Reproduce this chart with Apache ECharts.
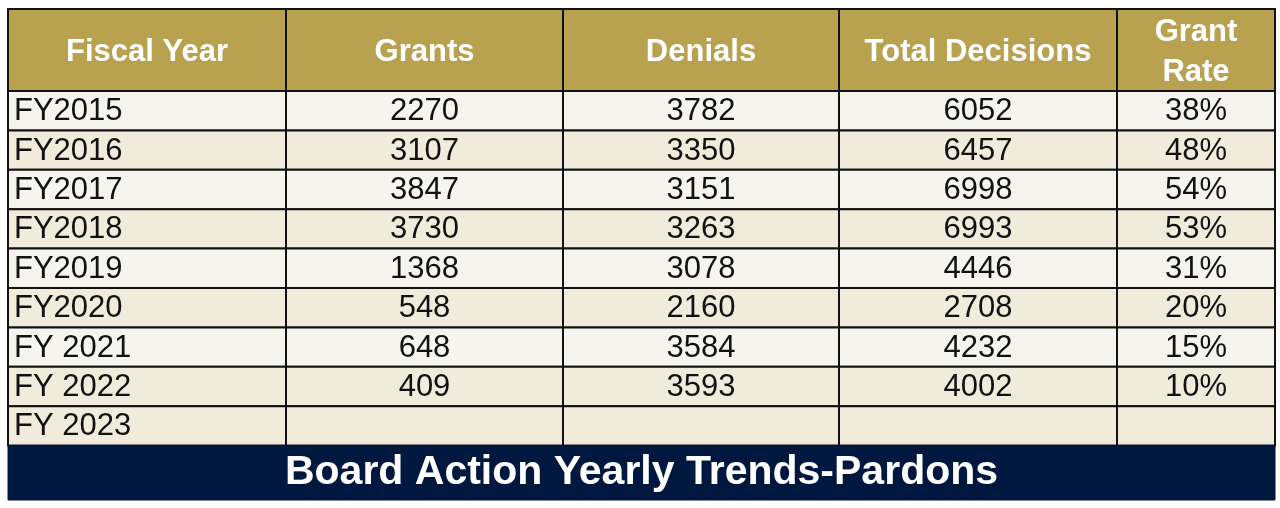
<!DOCTYPE html>
<html>
<head>
<meta charset="utf-8">
<script src="https://cdn.jsdelivr.net/npm/echarts@6/dist/echarts.min.js"></script>
<style>html,body{margin:0;padding:0;background:#fff}#main{width:1280px;height:508px}</style>
</head>
<body>
<div id="main"></div>
<script>
// ---- data ----
const headers = ['Fiscal Year', 'Grants', 'Denials', 'Total Decisions', 'Grant\nRate'];
const years = ['FY2015', 'FY2016', 'FY2017', 'FY2018', 'FY2019', 'FY2020', 'FY 2021', 'FY 2022', 'FY 2023'];
const grants = [2270, 3107, 3847, 3730, 1368, 548, 648, 409, null];
const denials = [3782, 3350, 3151, 3263, 3078, 2160, 3584, 3593, null];
const totals = [6052, 6457, 6998, 6993, 4446, 2708, 4232, 4002, null];
const grantRates = [38, 48, 54, 53, 31, 20, 15, 10, null];
const title = 'Board Action Yearly Trends-Pardons';

// ---- layout (not data) ----
const COL_EDGES = [8, 286, 563, 839, 1117, 1275];
const HEADER_TOP = 9, HEADER_BOTTOM = 91, ROW_H = 39.4, TITLE_BOTTOM = 500;
const FONT = "'Liberation Sans', Arial, sans-serif";
const GOLD = '#B8A14F', LIGHT = '#F5F4EE', BEIGE = '#F1EBDC', NAVY = '#00183F';
const rowFill = [LIGHT, BEIGE, LIGHT, BEIGE, LIGHT, BEIGE, LIGHT, BEIGE, BEIGE];

// build cell list: [kind, col, row]  kind 0 header, 1 body, 2 title
const cells = [];
const cellText = [];
headers.forEach((h, c) => { cells.push([0, c, -1]); cellText.push(h); });
const fmt = v => (v === null || v === undefined) ? '' : String(v);
years.forEach((y, r) => {
  const vals = [y, fmt(grants[r]), fmt(denials[r]), fmt(totals[r]), grantRates[r] === null ? '' : grantRates[r] + '%'];
  vals.forEach((v, c) => { cells.push([1, c, r]); cellText.push(v); });
});
cells.push([2, 0, years.length]); cellText.push(title);

const chart = echarts.init(document.getElementById('main'), null, { renderer: 'canvas' });

function renderItem(params, api) {
  const idx = params.dataIndex;
  const kind = api.value(0), col = api.value(1), row = api.value(2);
  let x0, x1, y0, y1;
  const bodyBottom = HEADER_BOTTOM + ROW_H * years.length;
  if (kind === 0) { x0 = COL_EDGES[col]; x1 = COL_EDGES[col + 1]; y0 = HEADER_TOP; y1 = HEADER_BOTTOM; }
  else if (kind === 1) { x0 = COL_EDGES[col]; x1 = COL_EDGES[col + 1]; y0 = HEADER_BOTTOM + ROW_H * row; y1 = y0 + ROW_H; }
  else { x0 = COL_EDGES[0]; x1 = COL_EDGES[COL_EDGES.length - 1]; y0 = bodyBottom; y1 = TITLE_BOTTOM; }
  const p0 = api.coord([x0, y0]);
  const p1 = api.coord([x1, y1]);
  const w = p1[0] - p0[0], h = p1[1] - p0[1];
  const fill = kind === 0 ? GOLD : kind === 1 ? rowFill[row] : NAVY;
  const children = [{
    type: 'rect',
    shape: { x: p0[0], y: p0[1], width: w, height: h },
    style: { fill: fill, stroke: kind === 2 ? NAVY : '#111', lineWidth: kind === 2 ? 1 : 2 }
  }];
  const txt = cellText[idx];
  if (txt) {
    let tx, align;
    if (kind === 1 && col === 0) { tx = p0[0] + 6; align = 'left'; }
    else { tx = p0[0] + w / 2; align = 'center'; }
    children.push({
      type: 'text',
      x: tx, y: p0[1] + h / 2 + (kind === 2 ? 0 : kind === 0 ? 2 : 1),
      style: {
        text: txt,
        fontFamily: FONT,
        fontSize: kind === 2 ? 41 : 31,
        fontWeight: kind === 1 ? 'normal' : 'bold',
        lineHeight: 40,
        fill: kind === 1 ? '#111' : '#FFFFFF',
        align: align,
        verticalAlign: 'middle'
      }
    });
  }
  return { type: 'group', children: children };
}

chart.setOption({
  animation: false,
  backgroundColor: '#ffffff',
  grid: { left: 0, right: 0, top: 0, bottom: 0 },
  xAxis: { type: 'value', min: 0, max: 1280, show: false },
  yAxis: { type: 'value', min: 0, max: 508, inverse: true, show: false },
  series: [{
    type: 'custom',
    renderItem: renderItem,
    data: cells,
    encode: { x: 1, y: 2 },
    clip: false
  }]
});
</script>
</body>
</html>
